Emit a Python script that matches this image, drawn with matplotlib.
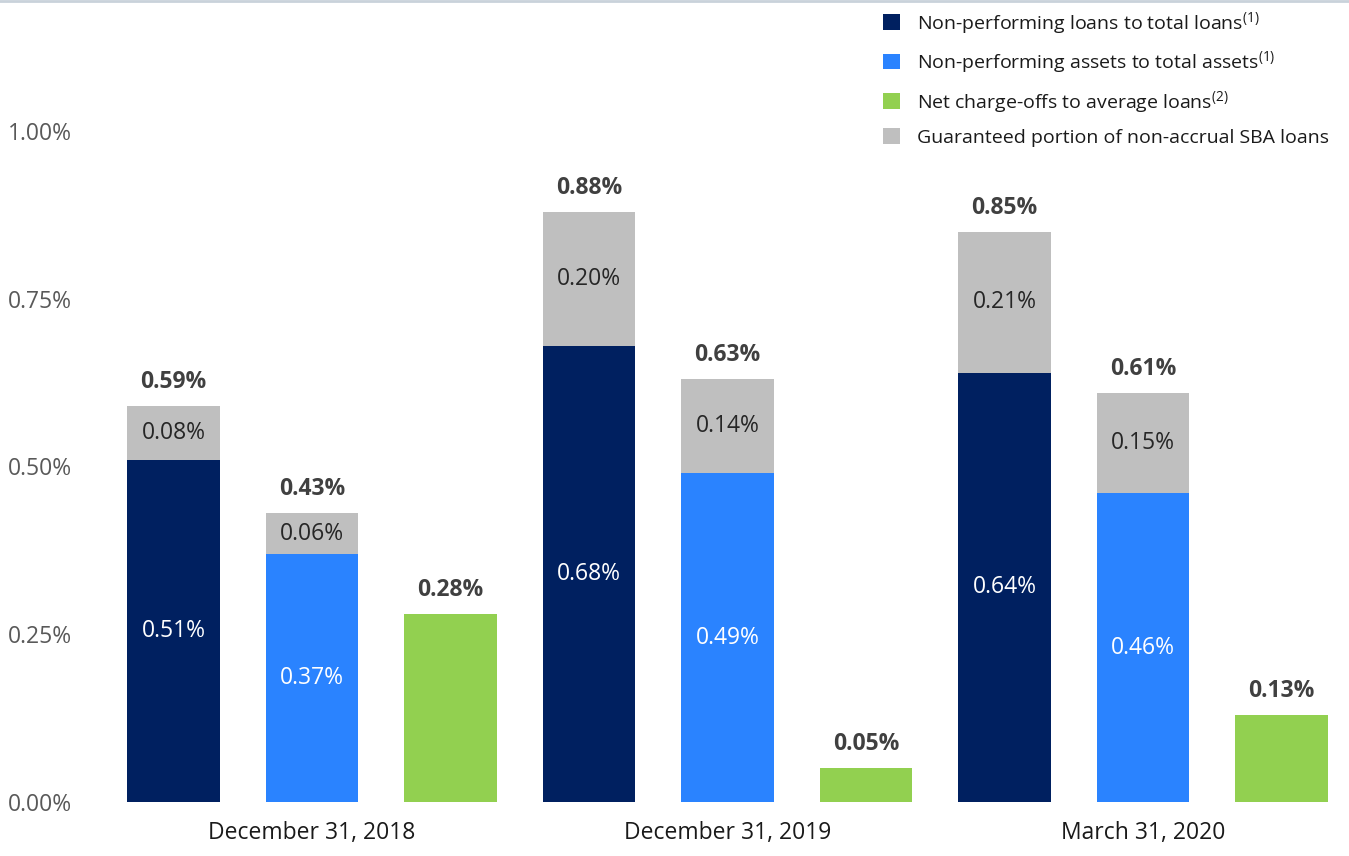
import matplotlib
matplotlib.use("Agg")
import matplotlib.pyplot as plt
from matplotlib.lines import Line2D
import numpy as np

plt.rcParams['font.family'] = ['Open Sans', 'DejaVu Sans']
plt.rcParams['mathtext.fontset'] = 'custom'
plt.rcParams['mathtext.rm'] = 'Open Sans'
plt.rcParams['mathtext.it'] = 'Open Sans'

periods = ["December 31, 2018", "December 31, 2019", "March 31, 2020"]
npl_loans = [0.51, 0.68, 0.64]
npl_loans_sba = [0.08, 0.20, 0.21]
npa_assets = [0.37, 0.49, 0.46]
npa_assets_sba = [0.06, 0.14, 0.15]
net_chargeoffs = [0.28, 0.05, 0.13]
yticks = [0.0, 0.25, 0.50, 0.75, 1.00]

labels = ["Non-performing loans to total loans$^{(1)}$",
          "Non-performing assets to total assets$^{(1)}$",
          "Net charge-offs to average loans$^{(2)}$",
          "Guaranteed portion of non-accrual SBA loans"]

c_dark = "#002060"
c_blue = "#2A83FF"
c_green = "#92D050"
c_gray = "#BFBFBF"
c_text = "#404040"

W, H = 1349, 856
fig = plt.figure(figsize=(W / 100, H / 100), dpi=100)
ax = fig.add_axes([100 / W, (H - 802) / H, 1240 / W, (802 - 3.5) / H])

slot = 3
x_dark = np.arange(len(periods)) * slot
x_blue = x_dark + 1
x_green = x_dark + 2
bw = 0.665

b1 = ax.bar(x_dark, npl_loans, bw, color=c_dark)
g1 = ax.bar(x_dark, npl_loans_sba, bw, bottom=npl_loans, color=c_gray)
b2 = ax.bar(x_blue, npa_assets, bw, color=c_blue)
g2 = ax.bar(x_blue, npa_assets_sba, bw, bottom=npa_assets, color=c_gray)
b3 = ax.bar(x_green, net_chargeoffs, bw, color=c_green)

fs = 16.5
off = 24
for xs, base, top in [(x_dark, npl_loans, npl_loans_sba), (x_blue, npa_assets, npa_assets_sba)]:
    for x, b, t in zip(xs, base, top):
        ax.text(x, b / 2, f"{b:.2f}%", ha='center', va='center', color='white', fontsize=fs)
        ax.text(x, b + t / 2, f"{t:.2f}%", ha='center', va='center', color='#262626', fontsize=fs)
        ax.annotate(f"{b + t:.2f}%", (x, b + t), xytext=(0, off), textcoords='offset pixels',
                    ha='center', va='center', color=c_text, fontsize=fs, fontweight='bold')
for x, v in zip(x_green, net_chargeoffs):
    ax.annotate(f"{v:.2f}%", (x, v), xytext=(0, off), textcoords='offset pixels',
                ha='center', va='center', color=c_text, fontsize=fs, fontweight='bold')

ax.set_xlim(-(173.5 - 100) / 138.5, (1340 - 173.5) / 138.5)
ax.set_ylim(0, 1.19)
ax.set_yticks(yticks)
ax.set_yticklabels([f"{v:.2f}%" for v in yticks], color='#595959', fontsize=16.5)
ax.set_xticks(x_blue)
ax.set_xticklabels(periods, fontsize=16.5, color='#1a1a1a')
ax.tick_params(axis='both', length=0)
ax.tick_params(axis='y', pad=20)
ax.tick_params(axis='x', pad=14)
for s in ax.spines.values():
    s.set_visible(False)

leg = fig.legend([b1, b2, b3, g1], labels, loc='upper left', bbox_to_anchor=(875 / W, 1 - 2 / H),
                 frameon=False, fontsize=14, handlelength=0.87, handleheight=0.87,
                 labelspacing=0.7, handletextpad=0.87, borderaxespad=0)
for t in leg.get_texts():
    t.set_color('#1a1a1a')

fig.add_artist(Line2D([0, 1], [1 - 1 / H, 1 - 1 / H], transform=fig.transFigure,
                      color='#C9D2DA', lw=2))

fig.savefig("out.png", dpi=100)
